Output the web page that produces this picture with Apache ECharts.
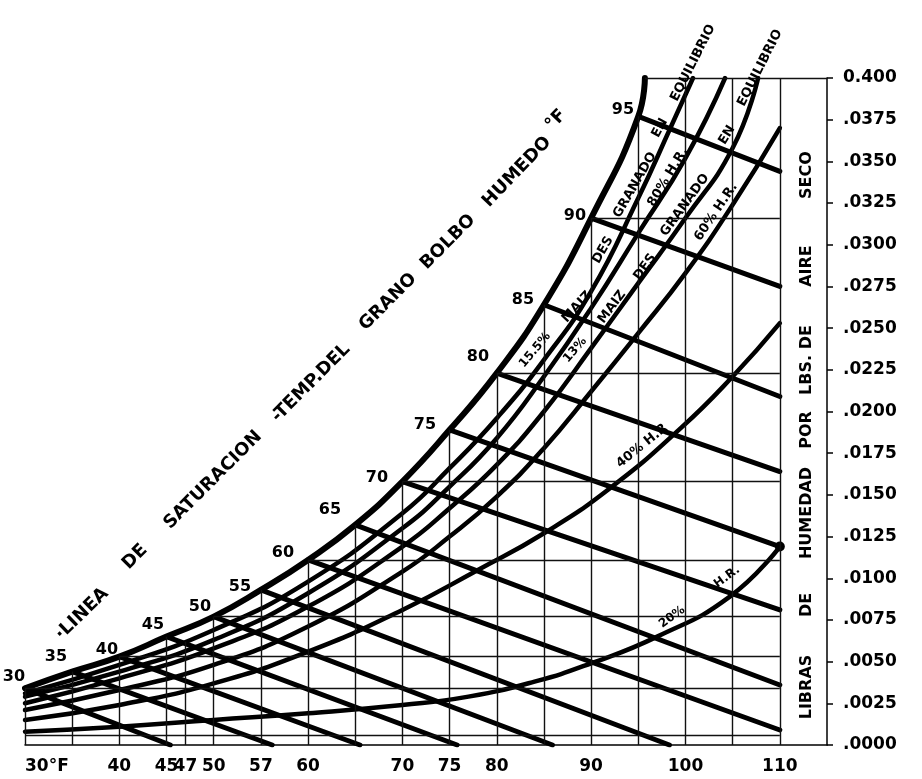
<!DOCTYPE html>
<html>
<head>
<meta charset="utf-8">
<script src="https://cdn.jsdelivr.net/npm/echarts@6.0.0/dist/echarts.min.js"></script>
<style>
  html, body { margin: 0; padding: 0; background: #fff; }
  #chart { width: 922px; height: 779px; }
</style>
</head>
<body>
<div id="chart"></div>
<script>
// bottom axis: dry bulb °F ; right axis: lb water / lb dry air
const xTickVals = [30, 40, 45, 47, 50, 55, 60, 70, 75, 80, 90, 100, 110];
const xTickText = ['30°F', '40', '45', '47', '50', '57', '60', '70', '75', '80', '90', '100', '110'];
const yTickText = ['.0000', '.0025', '.0050', '.0075', '.0100', '.0125', '.0150', '.0175', '.0200',
  '.0225', '.0250', '.0275', '.0300', '.0325', '.0350', '.0375', '0.400'];

// saturation line (wet bulb temperatures)
const satT = [30, 35, 40, 45, 50, 55, 60, 65, 70, 75, 80, 85, 90, 95, 95.7];
const satW = [0.0034, 0.0044, 0.0053, 0.0065, 0.0077, 0.0093, 0.0111, 0.0132, 0.0158, 0.0189, 0.0223, 0.0264, 0.0316, 0.0377, 0.0400];

// wet bulb lines: start on saturation, end on the bottom or on the 110 line
const wbTemp = [30, 35, 40, 45, 50, 55, 60, 65, 70, 75, 80, 85, 90, 95];
const wbStartW = [0.0034, 0.0044, 0.0053, 0.0065, 0.0077, 0.0093, 0.0111, 0.0132, 0.0158, 0.0189, 0.0223, 0.0264, 0.0316, 0.0377];
const wbEndT = [45.4, 56.2, 65.5, 75.8, 85.9, 98.3, 110, 110, 110, 110, 110, 110, 110, 110];
const wbEndW = [0, 0, 0, 0, 0, 0, 0.0009, 0.0036, 0.0081, 0.0119, 0.0164, 0.0209, 0.0275, 0.0344];

// equilibrium curves for shelled corn and relative humidity curves
const emc155T = [30, 40, 50, 60, 70, 75, 80, 85, 90, 95, 98.4, 100.8];
const emc155W = [0.0031, 0.0048, 0.0069, 0.0098, 0.0139, 0.0166, 0.0196, 0.0231, 0.0272, 0.0328, 0.0370, 0.0400];
const rh80T = [30, 40, 50, 60, 70, 75, 80, 85, 90, 95, 100, 104.2];
const rh80W = [0.0029, 0.0044, 0.0063, 0.0091, 0.0130, 0.0155, 0.0184, 0.0221, 0.0262, 0.0307, 0.0352, 0.0400];
const emc13T = [30, 40, 50, 60, 70, 75, 80, 85, 90, 95, 100, 105, 107.7];
const emc13W = [0.0025, 0.0040, 0.0058, 0.0083, 0.0119, 0.0142, 0.0168, 0.0200, 0.0238, 0.0277, 0.0316, 0.0358, 0.0400];
const rh60T = [30, 40, 50, 60, 70, 75, 80, 85, 90, 95, 100, 105, 110];
const rh60W = [0.0021, 0.0033, 0.0048, 0.0071, 0.0104, 0.0125, 0.0149, 0.0178, 0.0212, 0.0247, 0.0283, 0.0324, 0.0370];
const rh40T = [30, 40, 50, 60, 70, 78, 85, 92, 99.5, 105, 110];
const rh40W = [0.0015, 0.0024, 0.0037, 0.0056, 0.0081, 0.0105, 0.0127, 0.0154, 0.0190, 0.0221, 0.0253];
const rh20T = [30, 40, 50, 60, 70, 77, 84, 90, 97, 104.7, 110];
const rh20W = [0.0008, 0.0011, 0.0015, 0.0019, 0.0024, 0.0029, 0.0038, 0.0049, 0.0065, 0.0089, 0.0119];

// grid lines (vertical ones start on the saturation line)
const vGridT = [30, 35, 40, 45, 47, 50, 55, 60, 65, 70, 75, 80, 85, 90, 95, 100, 105, 110];
const vGridTop = [0.0034, 0.0044, 0.0053, 0.0065, 0.0062, 0.0077, 0.0093, 0.0111, 0.0132, 0.0158, 0.0189, 0.0223, 0.0264, 0.0316, 0.0377, 0.0400, 0.0400, 0.0400];
const hGridW = [0.0006, 0.0034, 0.0053, 0.0077, 0.0111, 0.0158, 0.0223, 0.0316, 0.0400];
const hGridFromT = [30, 30, 40, 50, 60, 70, 80, 90, 95.7];
const hGridToT = [110, 110, 110, 110, 110, 110, 110, 110, 115];

const FONT = '"DejaVu Sans", sans-serif';
const chart = echarts.init(document.getElementById('chart'));

const pairs = (xs, ys) => xs.map((x, i) => [x, ys[i]]);

const gridSegs = [];
vGridT.forEach((t, i) => gridSegs.push([{ coord: [t, vGridTop[i]] }, { coord: [t, 0] }]));
hGridW.forEach((w, i) => gridSegs.push([{ coord: [hGridFromT[i], w] }, { coord: [hGridToT[i], w] }]));

const series = [{
  type: 'line', data: [[30, 0]], symbol: 'none', silent: true, z: 1,
  lineStyle: { width: 0 },
  markLine: {
    silent: true, symbol: ['none', 'none'], label: { show: false },
    lineStyle: { color: '#111', width: 1.4, type: 'solid' },
    emphasis: { disabled: true },
    data: gridSegs
  }
}];

wbTemp.forEach((t, i) => {
  series.push({
    type: 'line', silent: true, symbol: 'none', z: 3,
    data: [[t, wbStartW[i]], [wbEndT[i], wbEndW[i]]],
    lineStyle: { color: '#000', width: 5, cap: 'round' }
  });
});

const curve = (xs, ys, width) => ({
  type: 'line', silent: true, symbol: 'none', z: 4, smooth: 0.5,
  data: pairs(xs, ys),
  lineStyle: { color: '#000', width: width, cap: 'round' }
});
series.push(curve(satT, satW, 6));
series.push(curve(emc155T, emc155W, 4.5));
series.push(curve(rh80T, rh80W, 4.5));
series.push(curve(emc13T, emc13W, 4.5));
series.push(curve(rh60T, rh60W, 4.5));
series.push(curve(rh40T, rh40W, 4.5));
const rh20 = curve(rh20T, rh20W, 4.5);
rh20.showSymbol = true;
rh20.data[rh20.data.length - 1] = { value: rh20.data[rh20.data.length - 1], symbol: 'circle', symbolSize: 10, itemStyle: { color: '#000' } };
series.push(rh20);

function txt(s, x, y, deg, size) {
  return {
    type: 'text', x: x, y: y, rotation: deg * Math.PI / 180, silent: true, z: 20,
    style: {
      text: s, fill: '#000', font: 'bold ' + size + 'px ' + FONT,
      align: 'center', verticalAlign: 'middle', textAlign: 'center', textVerticalAlign: 'middle'
    }
  };
}

const graphics = [
  // title along the saturation line
  txt('·LINEA', 82, 614, 44, 18),
  txt('DE', 135, 557, 45, 18),
  txt('SATURACION', 213, 480, 45, 18),
  txt('-TEMP.DEL', 311, 383, 45, 18),
  txt('GRANO', 388, 302, 45, 18),
  txt('BOLBO', 448, 242, 45, 18),
  txt('HUMEDO', 517, 172, 46, 18),
  txt('°F', 556, 120, 46, 18),
  // wet bulb temperatures on the saturation line
  txt('30', 14, 677, 0, 16), txt('35', 56, 657, 0, 16), txt('40', 107, 650, 0, 16),
  txt('45', 153, 625, 0, 16), txt('50', 200, 607, 0, 16), txt('55', 240, 587, 0, 16),
  txt('60', 283, 553, 0, 16), txt('65', 330, 510, 0, 16), txt('70', 377, 478, 0, 16),
  txt('75', 425, 425, 0, 16), txt('80', 478, 357, 0, 16), txt('85', 523, 300, 0, 16),
  txt('90', 575, 216, 0, 16), txt('95', 623, 110, 0, 16),
  // corn equilibrium and relative humidity labels
  txt('15.5%', 535, 350, 50, 12),
  txt('MAIZ', 577, 307, 47, 13),
  txt('DES', 603, 250, 60, 13),
  txt('GRANADO', 635, 185, 60, 13),
  txt('EN', 660, 128, 62, 13),
  txt('EQUILIBRIO', 693, 63, 63, 13),
  txt('80% H.R.', 668, 177, 59, 13),
  txt('13%', 575, 350, 49, 12),
  txt('MAIZ', 612, 307, 53, 13),
  txt('DES', 645, 267, 54, 13),
  txt('GRANADO', 685, 205, 54, 13),
  txt('EN', 727, 135, 58, 13),
  txt('EQUILIBRIO', 760, 68, 63, 13),
  txt('60% H.R.', 716, 212, 56, 13),
  txt('40% H.R', 642, 446, 39, 13),
  txt('20%', 672, 617, 36, 12),
  txt('H.R.', 727, 577, 36, 12),
  // right axis title
  txt('LIBRAS', 807, 687, 90, 16),
  txt('DE', 807, 605, 90, 16),
  txt('HUMEDAD', 807, 513, 90, 16),
  txt('POR', 807, 430, 90, 16),
  txt('LBS. DE', 807, 360, 90, 16),
  txt('AIRE', 807, 266, 90, 16),
  txt('SECO', 807, 175, 90, 16)
];

chart.setOption({
  animation: false,
  backgroundColor: '#fff',
  grid: { left: 25, right: 95, top: 78, bottom: 34 },
  xAxis: {
    type: 'value', min: 30, max: 115, interval: 1,
    axisLine: { show: true, onZero: false, lineStyle: { color: '#000', width: 1.5 } },
    axisTick: { show: false },
    splitLine: { show: false },
    axisLabel: {
      interval: 0, margin: 13, color: '#000', fontSize: 17, fontWeight: 'bold', fontFamily: FONT,
      alignMinLabel: 'left',
      formatter: v => {
        const k = xTickVals.indexOf(Math.round(v));
        return k < 0 ? '' : xTickText[k];
      }
    }
  },
  yAxis: {
    type: 'value', position: 'right', min: 0, max: 0.04, interval: 0.0025,
    axisLine: { show: true, lineStyle: { color: '#000', width: 1.5 } },
    axisTick: { show: true, length: 6, lineStyle: { color: '#000', width: 1.5 } },
    splitLine: { show: false },
    axisLabel: {
      margin: 16, color: '#000', fontSize: 17, fontWeight: 'bold', fontFamily: FONT,
      padding: [0, 0, 8, 0],
      formatter: v => yTickText[Math.round(v / 0.0025)]
    }
  },
  graphic: graphics,
  series: series
});
</script>
</body>
</html>
